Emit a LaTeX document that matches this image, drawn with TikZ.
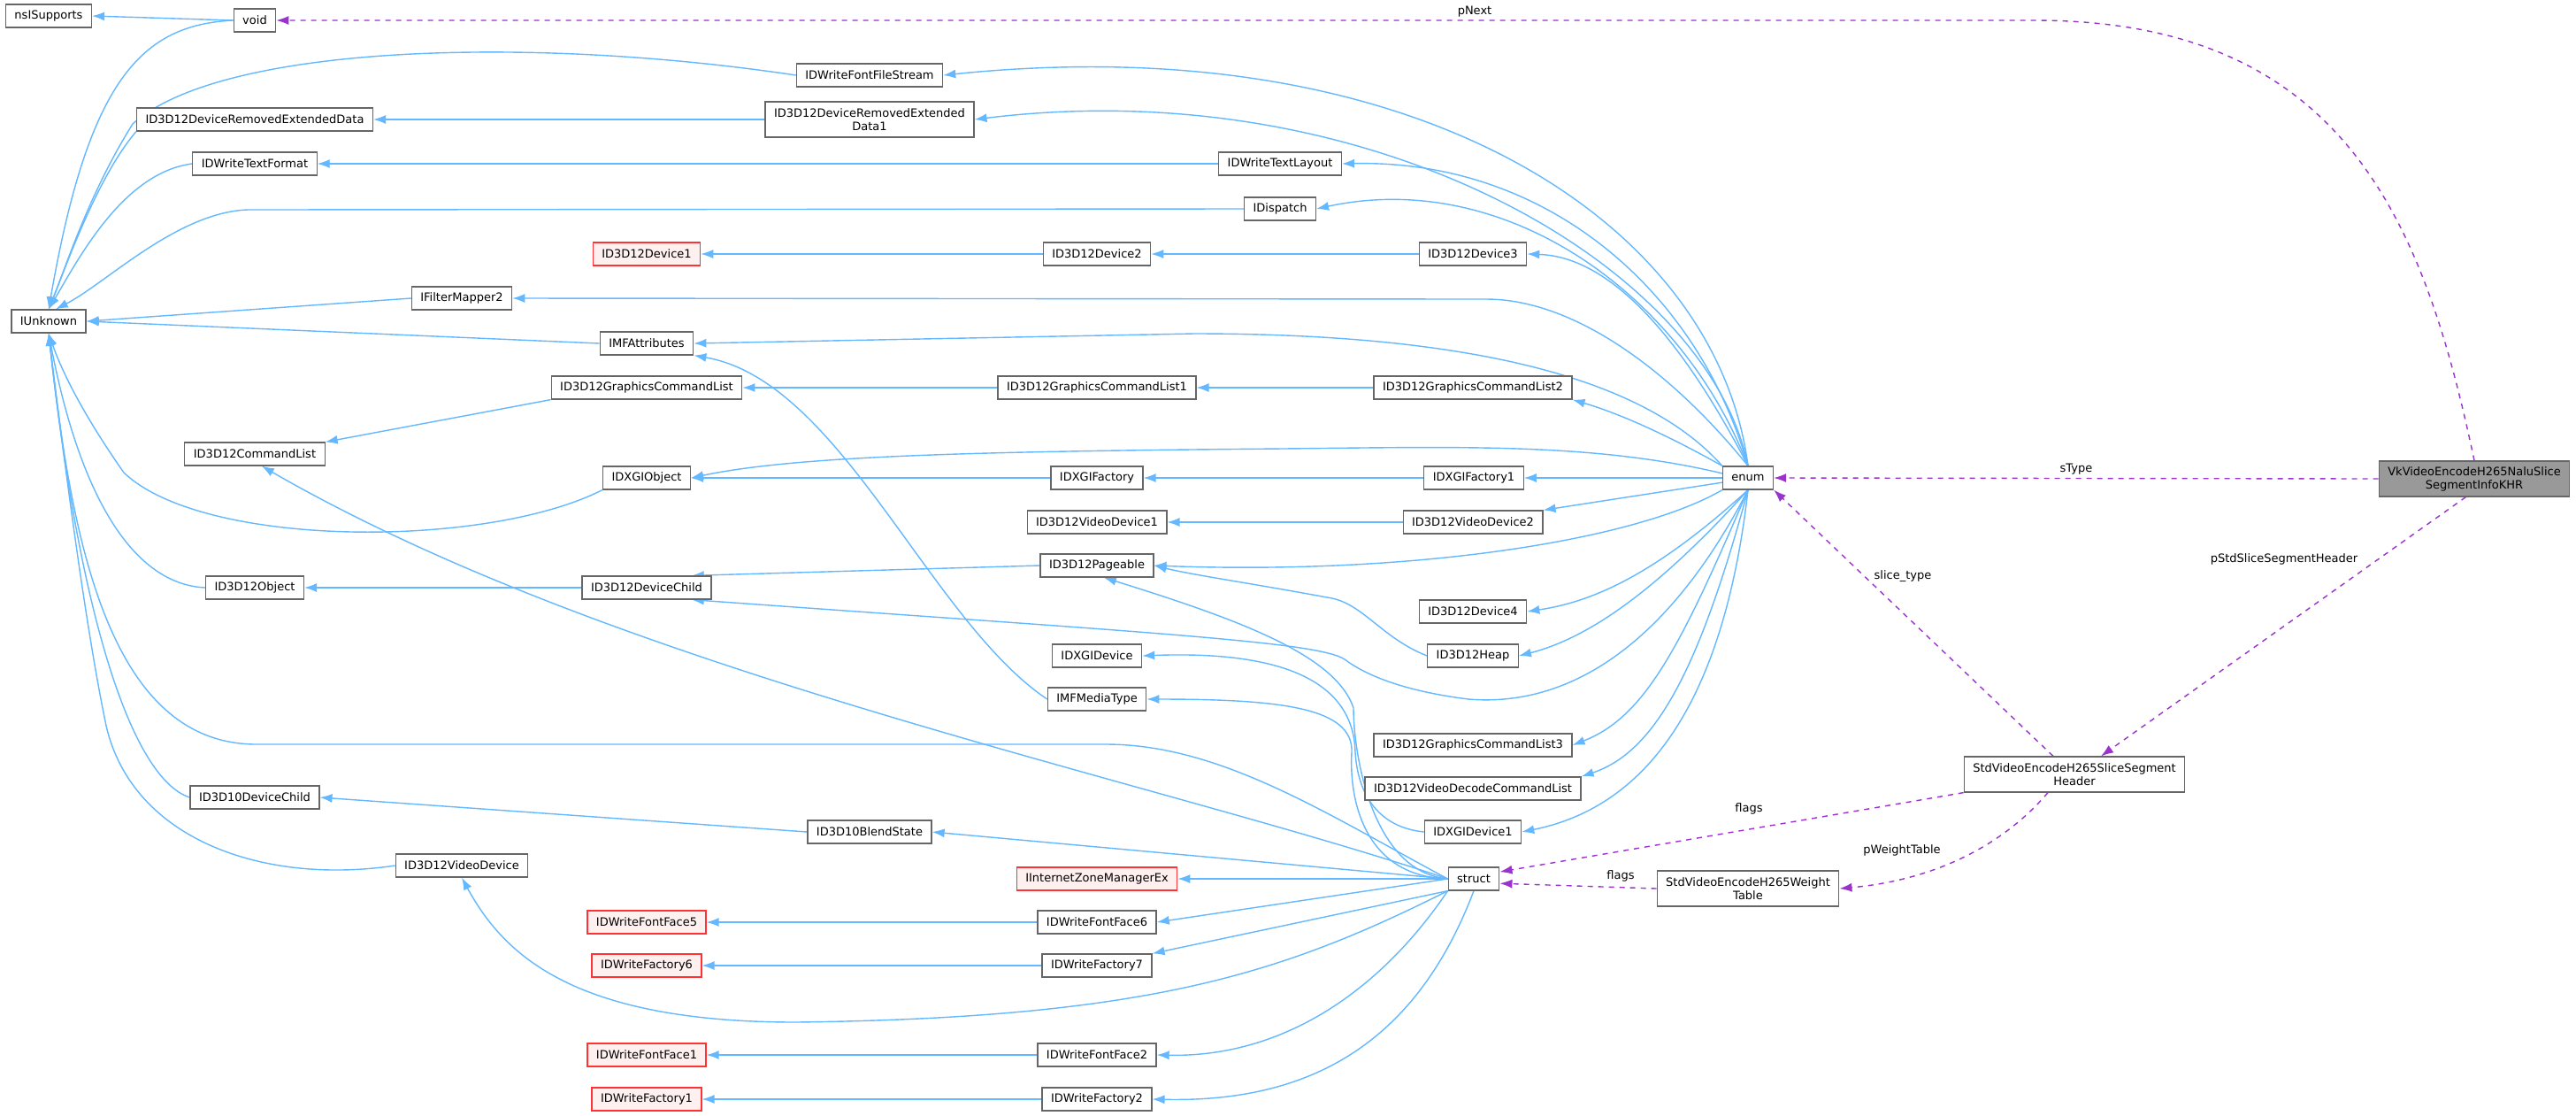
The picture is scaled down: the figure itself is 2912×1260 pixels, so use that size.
\documentclass[tikz,border=0pt]{standalone}
\usepackage{fontspec}
\setmainfont{DejaVu Sans}
\usetikzlibrary{arrows.meta}
\pgfdeclarelayer{edges}
\pgfsetlayers{edges,main}
\definecolor{eblue}{HTML}{63B8FF}
\definecolor{epurp}{HTML}{9A32CD}
\definecolor{nbord}{HTML}{666666}
\definecolor{rbord}{HTML}{FF3333}
\definecolor{rfill}{HTML}{FFF0F0}
\definecolor{vkfill}{HTML}{999999}
\begin{document}
\begin{tikzpicture}[x=0.5pt,y=-0.5pt,
  box/.style={draw=nbord,line width=0.6pt,fill=white,inner xsep=5pt,inner ysep=0pt,minimum height=13pt,font=\fontsize{6.5}{7.5}\selectfont,align=center},
  red/.style={box,draw=rbord,fill=rfill},
  box2/.style={box,minimum height=20pt},
  inh/.style={draw=eblue,line width=0.7pt,-{Latex[length=7pt,width=5pt]}},
  mem/.style={draw=epurp,line width=0.7pt,dash pattern=on 3pt off 3pt,-{Latex[length=7pt,width=5pt]}},
  lbl/.style={font=\fontsize{6.5}{7.5}\selectfont,inner sep=1pt}]
\useasboundingbox (0,0) rectangle (2912,1260);
% nodes
\node[box] (nsi) at (55,18) {nsISupports};
\node[box] (void) at (288,23) {void};
\node[box] (fstream) at (983,85) {IDWriteFontFileStream};
\node[box] (dred) at (288,135) {ID3D12DeviceRemovedExtendedData};
\node[box2] (dred1) at (983,135) {ID3D12DeviceRemovedExtended\\Data1};
\node[box] (tformat) at (288,185) {IDWriteTextFormat};
\node[box] (tlayout) at (1447,185) {IDWriteTextLayout};
\node[box] (idispatch) at (1447,236) {IDispatch};
\node[red] (dev1) at (731,287) {ID3D12Device1};
\node[box] (dev2) at (1240,287) {ID3D12Device2};
\node[box] (dev3) at (1665,287) {ID3D12Device3};
\node[box] (fmapper) at (522,337) {IFilterMapper2};
\node[box] (iunk) at (55,363) {IUnknown};
\node[box] (mfattr) at (731,388) {IMFAttributes};
\node[box] (gcl) at (731,438) {ID3D12GraphicsCommandList};
\node[box] (gcl1) at (1240,438) {ID3D12GraphicsCommandList1};
\node[box] (gcl2) at (1665,438) {ID3D12GraphicsCommandList2};
\node[box] (cmdlist) at (288,513) {ID3D12CommandList};
\node[box] (dxgiobj) at (731,540) {IDXGIObject};
\node[box] (dxgifac) at (1240,540) {IDXGIFactory};
\node[box] (dxgifac1) at (1666,540) {IDXGIFactory1};
\node[box] (enumn) at (1976,540) {enum};
\node[box] (vd1) at (1240,590) {ID3D12VideoDevice1};
\node[box] (vd2) at (1665,590) {ID3D12VideoDevice2};
\node[box] (pageable) at (1240,639) {ID3D12Pageable};
\node[box] (d3dobj) at (288,664) {ID3D12Object};
\node[box] (devchild) at (731,664) {ID3D12DeviceChild};
\node[box] (dev4) at (1665,691) {ID3D12Device4};
\node[box] (dxgidev) at (1240,741) {IDXGIDevice};
\node[box] (heap) at (1665,741) {ID3D12Heap};
\node[box] (mfmedia) at (1240,790) {IMFMediaType};
\node[box] (gcl3) at (1665,842) {ID3D12GraphicsCommandList3};
\node[box] (vdcl) at (1665,891) {ID3D12VideoDecodeCommandList};
\node[box] (d10child) at (288,901) {ID3D10DeviceChild};
\node[box] (blend) at (983,940) {ID3D10BlendState};
\node[box] (dxgidev1) at (1665,940) {IDXGIDevice1};
\node[box] (vdev) at (522,978) {ID3D12VideoDevice};
\node[red] (izm) at (1240,993) {IInternetZoneManagerEx};
\node[box] (structn) at (1666,993) {struct};
\node[box2] (wtable) at (1976,1004) {StdVideoEncodeH265Weight\\Table};
\node[box2] (ssh) at (2345,875) {StdVideoEncodeH265SliceSegment\\Header};
\node[box2,fill=vkfill] (vk) at (2797,541) {VkVideoEncodeH265NaluSlice\\SegmentInfoKHR};
\node[red] (ff5) at (731,1042) {IDWriteFontFace5};
\node[box] (ff6) at (1240,1042) {IDWriteFontFace6};
\node[red] (fac6) at (731,1091) {IDWriteFactory6};
\node[box] (fac7) at (1240,1091) {IDWriteFactory7};
\node[red] (ff1) at (731,1192) {IDWriteFontFace1};
\node[box] (ff2) at (1240,1192) {IDWriteFontFace2};
\node[red] (fac1) at (731,1242) {IDWriteFactory1};
\node[box] (fac2) at (1240,1242) {IDWriteFactory2};
\node[lbl] (lpnext) at (1667,13) {pNext};
\node[lbl] (lstype) at (2347,530) {sType};
\node[lbl] (lpstd) at (2582,632) {pStdSliceSegmentHeader};
\node[lbl] (lslice) at (2151,651) {slice\_type};
\node[lbl] (lflags1) at (1977,914) {flags};
\node[lbl] (lpwt) at (2150,961) {pWeightTable};
\node[lbl] (lflags2) at (1832,990) {flags};
\begin{pgfonlayer}{edges}
\fill[white] (0,0) rectangle (2912,1260);
% IUnknown edges
\draw[inh] (void.west) -- (nsi.east);
\draw[inh] (void.west) .. controls (160,28) and (100,90) .. (iunk.north);
\draw[inh] (fstream.west) .. controls (600,40) and (250,50) .. (150,140) .. controls (100,220) and (75,300) .. (iunk.north);
\draw[inh] (dred.south west) .. controls (110,200) and (75,300) .. (iunk.north);
\draw[inh] (tformat.west) .. controls (140,195) and (90,290) .. (iunk.north);
\draw[inh] (idispatch.west) -- (280,237) .. controls (200,240) and (120,320) .. (iunk.60);
\draw[inh] (fmapper.west) -- (iunk.east);
\draw[inh] (mfattr.west) -- (iunk.east);
\draw[inh] (dxgiobj.south west) .. controls (550,620) and (230,620) .. (140,534) .. controls (95,470) and (70,420) .. (iunk.south);
\draw[inh] (d3dobj.west) .. controls (150,660) and (90,560) .. (iunk.south);
\draw[inh] (d10child.west) .. controls (150,880) and (90,700) .. (iunk.south);
\draw[inh] (vdev.west) .. controls (300,1000) and (150,950) .. (120,820) .. controls (95,700) and (70,500) .. (iunk.south);
\draw[inh] (structn.west) .. controls (1500,920) and (1380,841) .. (1250,841) -- (290,841) .. controls (120,841) and (80,600) .. (iunk.south);
% straight inheritance
\draw[inh] (dred1.west) -- (dred.east);
\draw[inh] (tlayout.west) -- (tformat.east);
\draw[inh] (dev2.west) -- (dev1.east);
\draw[inh] (dev3.west) -- (dev2.east);
\draw[inh] (gcl.south west) -- (cmdlist.north east);
\draw[inh] (gcl1.west) -- (gcl.east);
\draw[inh] (gcl2.west) -- (gcl1.east);
\draw[inh] (dxgifac.west) -- (dxgiobj.east);
\draw[inh] (dxgifac1.west) -- (dxgifac.east);
\draw[inh] (vd2.west) -- (vd1.east);
\draw[inh] (pageable.west) -- (devchild.15);
\draw[inh] (devchild.west) -- (d3dobj.east);
\draw[inh] (mfmedia.west) .. controls (1050,700) and (950,430) .. (mfattr.south east);
\draw[inh] (blend.west) -- (d10child.east);
\draw[inh] (ff6.west) -- (ff5.east);
\draw[inh] (fac7.west) -- (fac6.east);
\draw[inh] (ff2.west) -- (ff1.east);
\draw[inh] (fac2.west) -- (fac1.east);
\draw[inh] (heap.west) .. controls (1560,720) and (1540,680) .. (1500,675) .. controls (1420,660) and (1350,650) .. (pageable.east);
\draw[inh] (dxgidev1.west) .. controls (1560,935) and (1535,900) .. (1532,850) .. controls (1530,770) and (1450,735) .. (dxgidev.east);
% enum edges
\draw[inh] (enumn.north) .. controls (1940,250) and (1600,30) .. (fstream.east);
\draw[inh] (enumn.north) .. controls (1930,300) and (1550,80) .. (dred1.east);
\draw[inh] (enumn.north) .. controls (1920,330) and (1750,180) .. (tlayout.east);
\draw[inh] (enumn.north) .. controls (1900,330) and (1700,190) .. (idispatch.east);
\draw[inh] (enumn.north) .. controls (1900,380) and (1820,290) .. (dev3.east);
\draw[inh] (enumn.north) .. controls (1890,420) and (1780,338) .. (1680,338) -- (fmapper.east);
\draw[inh] (enumn.north west) .. controls (1870,440) and (1700,377) .. (1350,377) -- (mfattr.east);
\draw[inh] (enumn.north west) .. controls (1900,500) and (1840,470) .. (gcl2.south east);
\draw[inh] (enumn.170) .. controls (1800,500) and (1650,505) .. (1450,507) .. controls (1100,510) and (900,515) .. (dxgiobj.east);
\draw[inh] (enumn.west) -- (dxgifac1.east);
\draw[inh] (enumn.190) -- (vd2.north east);
\draw[inh] (enumn.south west) .. controls (1850,610) and (1600,650) .. (pageable.east);
\draw[inh] (enumn.south) .. controls (1870,650) and (1800,680) .. (dev4.east);
\draw[inh] (enumn.south) .. controls (1880,660) and (1800,720) .. (heap.east);
\draw[inh] (enumn.south) .. controls (1890,720) and (1780,800) .. (1660,790) .. controls (1580,780) and (1540,760) .. (1520,745) .. controls (1490,725) and (1300,715) .. (devchild.-15);
\draw[inh] (enumn.south) .. controls (1900,730) and (1860,810) .. (gcl3.east);
\draw[inh] (enumn.south) .. controls (1920,760) and (1870,850) .. (vdcl.north east);
\draw[inh] (enumn.south) .. controls (1950,780) and (1870,910) .. (dxgidev1.east);
% struct edges
\draw[inh] (structn.west) -- (izm.east);
\draw[inh] (structn.west) -- (ff6.east);
\draw[inh] (structn.south west) -- (fac7.north east);
\draw[inh] (structn.south west) .. controls (1560,1120) and (1450,1195) .. (ff2.east);
\draw[inh] (structn.south) .. controls (1600,1180) and (1480,1246) .. (fac2.east);
\draw[inh] (structn.south west) .. controls (1450,1100) and (1300,1150) .. (900,1155) .. controls (650,1155) and (570,1080) .. (vdev.south);
\draw[inh] (structn.west) -- (blend.east);
\draw[inh] (structn.west) .. controls (1300,880) and (700,760) .. (cmdlist.-60);
\draw[inh] (structn.west) .. controls (1550,985) and (1530,850) .. (1530,800) .. controls (1510,740) and (1400,700) .. (pageable.-60);
\draw[inh] (structn.west) .. controls (1540,990) and (1525,900) .. (1528,850) .. controls (1530,800) and (1450,790) .. (mfmedia.east);
% member edges
\draw[mem] (vk.north) .. controls (2740,250) and (2650,23) .. (2300,23) -- (void.east);
\draw[mem] (vk.west) -- (enumn.east);
\draw[mem] (vk.-115) -- ([xshift=15pt]ssh.north);
\draw[mem] ([xshift=-12pt]ssh.north) -- (enumn.south east);
\draw[mem] (ssh.south west) -- (structn.15);
\draw[mem] ([xshift=-15pt]ssh.south) .. controls (2260,960) and (2180,995) .. (wtable.east);
\draw[mem] (wtable.west) -- (structn.-10);
\end{pgfonlayer}
\end{tikzpicture}
\end{document}
